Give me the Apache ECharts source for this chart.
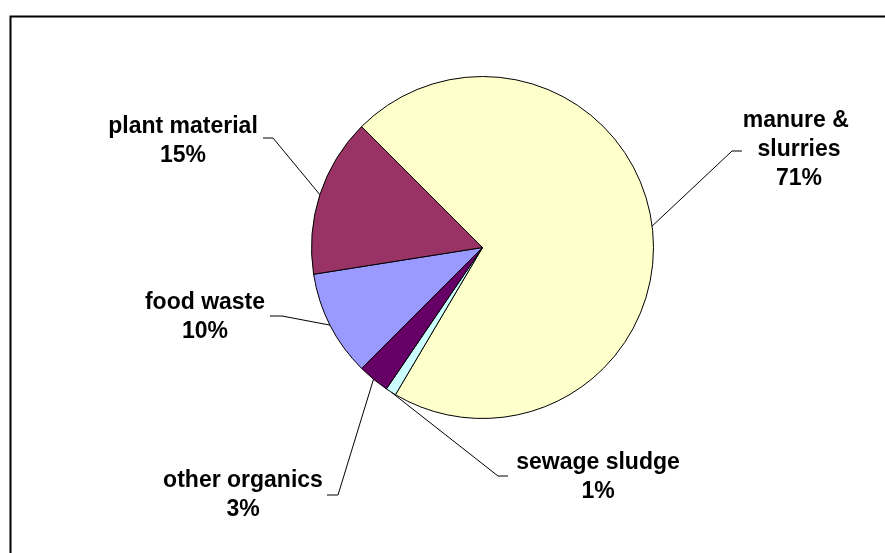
<!DOCTYPE html>
<html>
<head>
<meta charset="utf-8">
<title>Feedstock shares</title>
<script src="https://cdn.jsdelivr.net/npm/echarts@6/dist/echarts.min.js"></script>
<style>
  html, body { margin: 0; padding: 0; background: #ffffff; }
  #chart { width: 885px; height: 553px; }
</style>
</head>
<body>
<div id="chart"></div>
<script>
// Feedstock categories, in drawing order (clockwise from the upper left)
const categories = ['manure & slurries', 'sewage sludge', 'other organics', 'food waste', 'plant material'];
// Share of each category, percent
const shares = [71, 1, 3, 10, 15];
// Slice fills
const sliceColors = ['#FFFFCC', '#CCFFFF', '#660066', '#9999FF', '#993366'];

// Where each callout sits: text centre, leader elbow and leader end (pixels)
const labelSpots = [
  { x: 799, y: 150, elbow: [732, 151], end: [742, 151] },
  { x: 598, y: 477, elbow: [498, 476], end: [508, 476] },
  { x: 243, y: 495, elbow: [338, 495], end: [327, 495] },
  { x: 205, y: 317, elbow: [282, 316], end: [270, 316] },
  { x: 183, y: 141, elbow: [273, 138], end: [263, 138] }
];

const PIE_CX = 482.5, PIE_CY = 247.5, PIE_R = 171;

const pieData = categories.map(function (name, i) {
  const item = {
    name: name,
    value: shares[i],
    itemStyle: { color: sliceColors[i] }
  };
  if (i === 0) {
    // wrap the long name onto two lines
    item.label = { width: 120, overflow: 'break' };
  }
  return item;
});

const chart = echarts.init(document.getElementById('chart'), null, { renderer: 'canvas' });

chart.setOption({
  backgroundColor: '#ffffff',
  animation: false,
  graphic: [{
    type: 'rect',
    left: 8,
    top: 14,
    shape: { width: 900, height: 600 },
    style: { fill: 'none', stroke: '#000000', lineWidth: 2 },
    silent: true,
    z: -1
  }],
  series: [{
    type: 'pie',
    center: [PIE_CX, PIE_CY],
    radius: PIE_R,
    startAngle: 135,
    clockwise: true,
    avoidLabelOverlap: false,
    data: pieData,
    itemStyle: { borderColor: '#000000', borderWidth: 1 },
    emphasis: { disabled: true },
    label: {
      show: true,
      position: 'outside',
      formatter: function (p) { return p.name + '\n' + p.value + '%'; },
      fontFamily: '"Liberation Sans", Arial, sans-serif',
      fontWeight: 'bold',
      fontSize: 23,
      lineHeight: 29,
      color: '#000000',
      align: 'center'
    },
    labelLine: {
      show: true,
      length: 20,
      length2: 10,
      lineStyle: { color: '#000000', width: 1 }
    },
    labelLayout: function (params) {
      const spot = labelSpots[params.dataIndex];
      const pts = params.labelLinePoints;
      const out = {
        x: spot.x,
        y: spot.y,
        align: 'center',
        verticalAlign: 'middle'
      };
      if (pts && pts.length) {
        out.labelLinePoints = [pts[0], spot.elbow, spot.end];
      }
      return out;
    }
  }]
});
</script>
</body>
</html>
